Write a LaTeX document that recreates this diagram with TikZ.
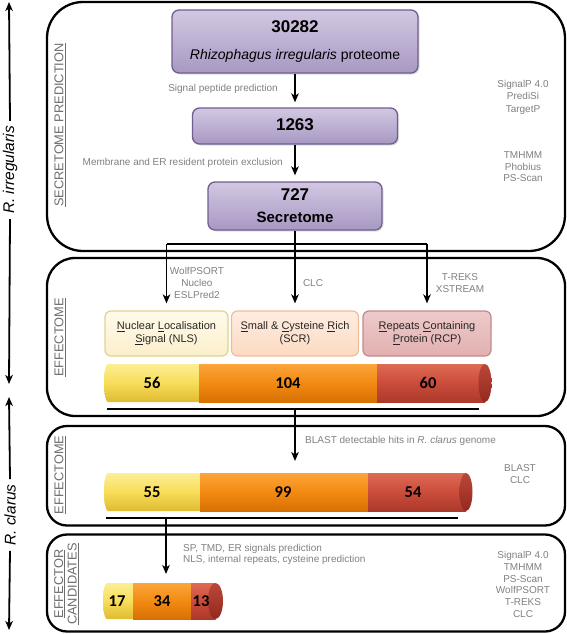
\documentclass[tikz,border=0pt]{standalone}
\usepackage{fontspec}
\setmainfont{Liberation Sans}
\newfontfamily\carlito{Carlito}
\usetikzlibrary{arrows.meta,shadows}
\definecolor{ptop}{HTML}{D2C8E2}
\definecolor{pbot}{HTML}{A898C3}
\definecolor{pborder}{HTML}{6F5F8F}
\definecolor{txtgray}{HTML}{808080}
\definecolor{labgray}{HTML}{6E6E6E}
\definecolor{nlstop}{HTML}{FFFAEA}
\definecolor{nlsbot}{HTML}{FBEFCB}
\definecolor{nlsdraw}{HTML}{E3D191}
\definecolor{scrtop}{HTML}{FEEDE0}
\definecolor{scrbot}{HTML}{FCDAC2}
\definecolor{scrdraw}{HTML}{EDBE9C}
\definecolor{rcptop}{HTML}{EECACA}
\definecolor{rcpbot}{HTML}{E2B0B0}
\definecolor{rcpdraw}{HTML}{C18A8A}
\definecolor{yT}{HTML}{FDEE95}
\definecolor{yM}{HTML}{F7DD58}
\definecolor{yB}{HTML}{E0BA33}
\definecolor{oT}{HTML}{FBA53A}
\definecolor{oM}{HTML}{F28A12}
\definecolor{oB}{HTML}{D87003}
\definecolor{rT}{HTML}{DE6B53}
\definecolor{rM}{HTML}{CB4C3B}
\definecolor{rB}{HTML}{AC392B}
\definecolor{cT}{HTML}{BA4838}
\definecolor{cB}{HTML}{93291F}
\begin{document}
\begin{tikzpicture}[x=1pt,y=-1pt,
  sec/.style={draw=black,line width=2.3pt},
  arr/.style={draw=black,line width=1.8pt,-{Stealth[length=9pt,width=7.5pt,inset=2.5pt]}},
  ln/.style={draw=black,line width=1.8pt},
  gtxt/.style={text=txtgray,font=\fontsize{10}{11.6}\selectfont,inner sep=0pt,align=center},
  seclab/.style={text=labgray,font=\fontsize{12.8}{13}\selectfont,rotate=90,inner sep=0pt,align=center},
  axlab/.style={text=black,font=\fontsize{15.5}{17}\selectfont\itshape,rotate=90,inner sep=5pt},
  pbox/.style={draw=pborder,line width=1.3pt,rounded corners=7pt,top color=ptop,bottom color=pbot,
     drop shadow={opacity=0.25,shadow xshift=1.5pt,shadow yshift=-1.5pt}},
  pbig/.style={font=\fontsize{17}{19}\selectfont\bfseries,inner sep=0pt},
  cbox/.style={rounded corners=6pt,line width=1.2pt,align=center,
     font=\fontsize{11}{13}\selectfont,text=black!85,inner sep=0pt,minimum height=45pt},
  yel/.style={top color=yT,bottom color=yB,middle color=yM},
  org/.style={top color=oT,bottom color=oB,middle color=oM},
  rd/.style={top color=rT,bottom color=rB,middle color=rM},
  capc/.style={top color=cT,bottom color=cB},
  num/.style={font=\carlito\bfseries\fontsize{16.5}{18}\selectfont,inner sep=0pt,text=black}
]
\useasboundingbox (0,0) rectangle (567,634);

% ---------- section frames ----------
\draw[sec,rounded corners=36pt] (47,2) rectangle (565,251);
\draw[sec,rounded corners=28pt] (47,258) rectangle (565,416);
\draw[sec,rounded corners=20pt] (47,426) rectangle (565,525.5);
\draw[sec,rounded corners=20pt] (47,534.5) rectangle (565,631.5);

% ---------- section labels ----------
\node[seclab] (lsec) at (60,125) {\underline{SECRETOME PREDICTION}};
\node[seclab] (leff1) at (60,337.5) {\underline{EFFECTOME}};
\node[seclab] (leff2) at (60,475) {\underline{EFFECTOME}};
\node[seclab,font=\fontsize{12.8}{13.5}\selectfont] (lcand) at (66.5,584) {\underline{EFFECTOR}\\\underline{CANDIDATES}};

% ---------- left axis ----------
\coordinate (ax1) at (9,2);
\coordinate (ax2) at (9,384);
\coordinate (ax3) at (9,397);
\coordinate (ax4) at (9,630);
\node[axlab] (rirr) at (10,170) {R. irregularis};
\node[axlab] (rcla) at (10,515) {R. clarus};
\draw[arr] (rirr.east) -- (ax1);
\draw[arr] (rirr.west) -- (ax2);
\draw[arr] (rcla.east) -- (ax3);
\draw[arr] (rcla.west) -- (ax4);

% ---------- secretome prediction ----------
\node[pbox,minimum width=246pt,minimum height=63pt] (p1) at (295,41.5) {};
\node[pbig] (p1a) at (295,27) {30282};
\node[inner sep=0pt,font=\fontsize{14}{16}\selectfont] (p1b) at (295,56) {\textit{Rhizophagus irregularis} proteome};
\node[pbox,minimum width=205pt,minimum height=36pt] (p2) at (295,126) {};
\node[pbig] (p2a) at (295,124.5) {1263};
\node[pbox,minimum width=174pt,minimum height=48pt] (p3) at (295,206) {};
\node[pbig] (p3a) at (295,195) {727};
\node[inner sep=0pt,font=\fontsize{15}{17}\selectfont\bfseries] (p3b) at (295,217) {Secretome};

\draw[arr,shorten >=5pt] (p1.south) -- (p2.north);
\draw[arr,shorten >=6pt] (p2.south) -- (p3.north);
\node[gtxt,anchor=east] (t1) at (278,89) {Signal peptide prediction};
\node[gtxt,anchor=east] (t2) at (283,163) {Membrane and ER resident protein exclusion};
\node[gtxt,font=\fontsize{10}{12.5}\selectfont] (t3) at (523,97) {SignalP 4.0\\PrediSi\\TargetP};
\node[gtxt] (t4) at (523,167) {TMHMM\\Phobius\\PS-Scan};

% ---------- effectome R. irregularis ----------
\node[cbox,draw=nlsdraw,top color=nlstop,bottom color=nlsbot,minimum width=123pt] (nls) at (166.5,333.5)
  {\underline{N}uclear \underline{L}ocalisation\\\underline{S}ignal (NLS)};
\node[cbox,draw=scrdraw,top color=scrtop,bottom color=scrbot,minimum width=127pt] (scr) at (295,333.5)
  {\underline{S}mall \& \underline{C}ysteine \underline{R}ich\\(SCR)};
\node[cbox,draw=rcpdraw,top color=rcptop,bottom color=rcpbot,minimum width=128pt] (rcp) at (427,333.5)
  {\underline{R}epeats \underline{C}ontaining\\\underline{P}rotein (RCP)};

\coordinate (jL) at (166.5,244);
\coordinate (jR) at (427,244);
\draw[ln] (jL) -- (jR);
\draw[arr,shorten >=7pt] (jL) -- (nls.north);
\draw[arr,shorten >=7pt] (p3.south) -- (scr.north);
\draw[arr,shorten >=7pt] (jR) -- (rcp.north);
\node[gtxt] (t5) at (197,283) {WolfPSORT\\Nucleo\\ESLPred2};
\node[gtxt] (t6) at (313,283) {CLC};
\node[gtxt] (t7) at (460,283) {T-REKS\\XSTREAM};

% bar 1
\shade[yel] (108,364) arc[start angle=90,end angle=270,x radius=4pt,y radius=19pt] -- (199,402) -- (199,364) -- cycle;
\shade[org] (199,364) rectangle (377,402);
\shade[rd] (377,364) rectangle (485,402);
\shade[capc] (485,383) ellipse[x radius=6.5pt,y radius=19pt];
\node[num] (n56) at (152,383) {56};
\node[num] (n104) at (288,383) {104};
\node[num] (n60) at (428,383) {60};
\coordinate (u1a) at (107,409);
\coordinate (u1b) at (479,409);
\coordinate (u1m) at (295,409);
\draw[ln] (u1a) -- (u1b);

% ---------- effectome R. clarus ----------
\coordinate (b2t) at (295,461);
\draw[arr] (u1m) -- (b2t);
\node[gtxt,anchor=west] (t8) at (305,441) {BLAST detectable hits in \textit{R. clarus} genome};
\node[gtxt] (t9) at (520,474) {BLAST\\CLC};

\shade[yel] (108,473) arc[start angle=90,end angle=270,x radius=4pt,y radius=19pt] -- (200,511) -- (200,473) -- cycle;
\shade[org] (200,473) rectangle (368,511);
\shade[rd] (368,473) rectangle (466,511);
\shade[capc] (466,492) ellipse[x radius=6.5pt,y radius=19pt];
\node[num] (n55) at (152,492) {55};
\node[num] (n99) at (283,492) {99};
\node[num] (n54) at (413,492) {54};
\coordinate (u2a) at (106,518);
\coordinate (u2b) at (458,518);
\coordinate (u2m) at (166,518);
\draw[ln] (u2a) -- (u2b);

% ---------- effector candidates ----------
\coordinate (b3t) at (166,574);
\draw[arr] (u2m) -- (b3t);
\node[gtxt,anchor=west,align=left] (t10) at (183,554.5) {SP, TMD, ER signals prediction\\NLS, internal repeats, cysteine prediction};
\node[gtxt,font=\fontsize{10}{11.8}\selectfont] (t11) at (523,584.5) {SignalP 4.0\\TMHMM\\PS-Scan\\WolfPSORT\\T-REKS\\CLC};

\shade[yel] (107,583) arc[start angle=90,end angle=270,x radius=4pt,y radius=18pt] -- (133,619) -- (133,583) -- cycle;
\shade[org] (133,583) rectangle (191,619);
\shade[rd] (191,583) rectangle (215.5,619);
\shade[capc] (215.5,601) ellipse[x radius=7.5pt,y radius=18pt];
\node[num] (n17) at (117,601) {17};
\node[num] (n34) at (162,601) {34};
\node[num] (n13) at (201,601) {13};
\end{tikzpicture}
\end{document}
